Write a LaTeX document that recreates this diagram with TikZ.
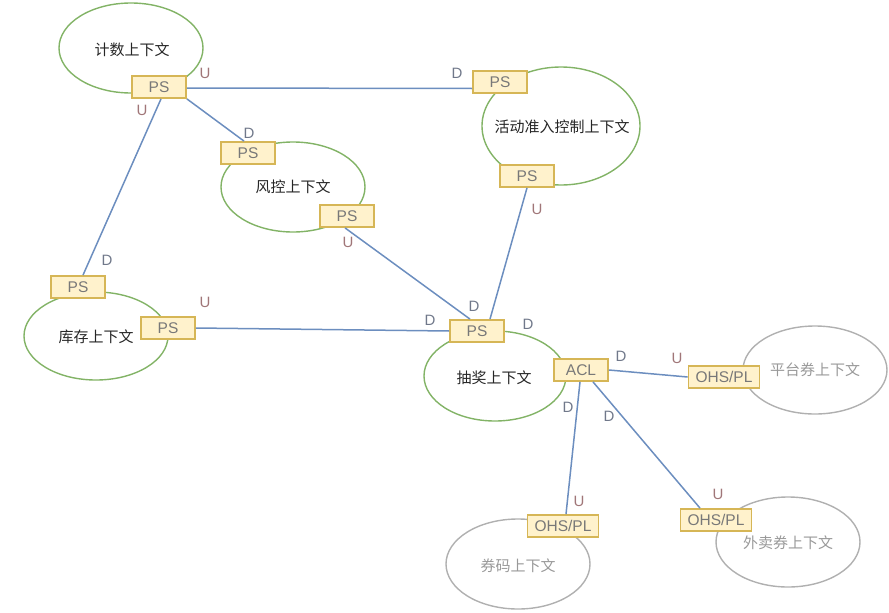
\documentclass[tikz,border=0pt]{standalone}
\usepackage{fontspec}
\setmainfont{Liberation Sans}
\newfontfamily\cjk{Noto Sans CJK SC}
\definecolor{ellgreen}{HTML}{82B366}
\definecolor{ellgray}{HTML}{B0B0B0}
\definecolor{boxfill}{HTML}{FFF2CC}
\definecolor{boxdraw}{HTML}{D6B656}
\definecolor{linkblue}{HTML}{6C8EBF}
\definecolor{ucol}{RGB}{160,118,120}
\definecolor{dcol}{RGB}{112,120,138}
\definecolor{boxtext}{RGB}{120,120,120}
\begin{document}
\begin{tikzpicture}[x=1pt,y=-1pt,
  ctx/.style={draw=ellgreen, line width=1.4pt},
  ctxg/.style={draw=ellgray, line width=1.4pt},
  ctxt/.style={font=\cjk\fontsize{15}{15}\selectfont, text=black!85},
  ctxgt/.style={font=\cjk\fontsize{15}{15}\selectfont, text=black!40},
  port/.style={draw=boxdraw, fill=boxfill, line width=1.8pt, minimum height=22pt, inner sep=0pt, font=\fontsize{15.5}{16}\selectfont, text=boxtext},
  ps/.style={port, minimum width=54pt},
  ohs/.style={port, minimum width=71pt},
  link/.style={draw=linkblue, line width=1.5pt},
  ulab/.style={font=\fontsize{15}{15}\selectfont, text=ucol, inner sep=0pt},
  dlab/.style={font=\fontsize{15}{15}\selectfont, text=dcol, inner sep=0pt}
]
\useasboundingbox (0,0) rectangle (889,613);
% ellipses
\draw[ctx] (131,48) ellipse [x radius=72, y radius=45];
\node[ctxt] (t1) at (132,50) {计数上下文};
\draw[ctx] (561,126) ellipse [x radius=79, y radius=59];
\node[ctxt] (t2) at (562,127) {活动准入控制上下文};
\draw[ctx] (293,187) ellipse [x radius=72, y radius=45];
\node[ctxt] (t3) at (293,187) {风控上下文};
\draw[ctx] (96,336) ellipse [x radius=72, y radius=44];
\node[ctxt] (t4) at (96,337) {库存上下文};
\draw[ctx] (495,376) ellipse [x radius=71, y radius=45];
\node[ctxt] (t5) at (494,378) {抽奖上下文};
\draw[ctxg] (815,370) ellipse [x radius=72, y radius=44];
\node[ctxgt] (t6) at (815,370) {平台券上下文};
\draw[ctxg] (518,564) ellipse [x radius=72, y radius=45];
\node[ctxgt] (t7) at (518,566) {券码上下文};
\draw[ctxg] (788,542) ellipse [x radius=72, y radius=45];
\node[ctxgt] (t8) at (788,543) {外卖券上下文};
% ports
\node[ps] (js) at (159,87) {PS};
\node[ps] (hdT) at (500,82) {PS};
\node[ps] (hdB) at (527,176) {PS};
\node[ps] (fkT) at (248,153) {PS};
\node[ps] (fkR) at (347,216) {PS};
\node[ps] (kcT) at (78,287) {PS};
\node[ps] (kcR) at (168,328) {PS};
\node[ps] (cj) at (477,331) {PS};
\node[ps] (acl) at (581,370) {ACL};
\node[ohs] (pt) at (724,377) {OHS/PL};
\node[ohs] (qm) at (563,526) {OHS/PL};
\node[ohs] (wm) at (716,520) {OHS/PL};
% connectors
\draw[link] ([yshift=-1pt]js.east) -- ([yshift=-6.5pt]hdT.west);
\draw[link] (js.south east) -- ([xshift=-4pt]fkT.north);
\draw[link] ([xshift=2pt]js.south) -- ([xshift=5pt]kcT.north);
\draw[link] ([xshift=-2pt]fkR.south) -- ([xshift=-7pt]cj.north);
\draw[link] (hdB.south) -- ([xshift=13pt]cj.north);
\draw[link] (kcR.east) -- (cj.west);
\draw[link] (acl.east) -- (pt.west);
\draw[link] ([xshift=-1pt]acl.south) -- ([xshift=3pt]qm.north);
\draw[link] ([xshift=12pt]acl.south) -- ([xshift=-16pt]wm.north);
% labels
\node[ulab] (u1) at (205,73) {U};
\node[dlab] (d1) at (457,73) {D};
\node[dlab] (d2) at (249,133) {D};
\node[ulab] (u2) at (142,110) {U};
\node[dlab] (d3) at (107,260) {D};
\node[ulab] (u3) at (348,242) {U};
\node[dlab] (d4) at (474,306) {D};
\node[ulab] (u4) at (537,209) {U};
\node[dlab] (d5) at (528,324) {D};
\node[ulab] (u5) at (205,302) {U};
\node[dlab] (d6) at (430,320) {D};
\node[dlab] (d7) at (621,356) {D};
\node[ulab] (u6) at (677,358) {U};
\node[dlab] (d8) at (568,407) {D};
\node[ulab] (u7) at (579,501) {U};
\node[dlab] (d9) at (609,416) {D};
\node[ulab] (u8) at (718,494) {U};
\end{tikzpicture}
\end{document}
